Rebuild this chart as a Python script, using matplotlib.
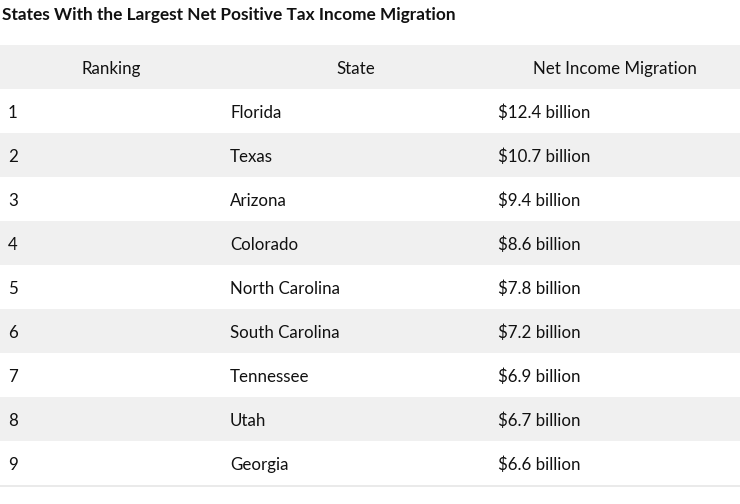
import matplotlib.pyplot as plt
from matplotlib.patches import Rectangle

title = "States With the Largest Net Positive Tax Income Migration"
headers = ["Ranking", "State", "Net Income Migration"]
rankings = ["1", "2", "3", "4", "5", "6", "7", "8", "9"]
states = ["Florida", "Texas", "Arizona", "Colorado", "North Carolina",
          "South Carolina", "Tennessee", "Utah", "Georgia"]
migration = ["$12.4 billion", "$10.7 billion", "$9.4 billion", "$8.6 billion",
             "$7.8 billion", "$7.2 billion", "$6.9 billion", "$6.7 billion",
             "$6.6 billion"]

plt.rcParams['font.family'] = ['Lato', 'DejaVu Sans']

fig = plt.figure(figsize=(7.4, 5.04), dpi=100)
ax = fig.add_axes([0, 0, 1, 1])
ax.set_xlim(0, 740)
ax.set_ylim(504, 0)
ax.axis('off')

# column edges in pixels
col_left = [0, 222, 490]
col_right = [222, 490, 740]
top = 45
row_h = 44
gray = '#f0f0f0'
txt = '#111111'

ax.text(2, 15, title, fontsize=12.4, fontweight='bold', va='center', ha='left', color='#111111')

# header
ax.add_patch(Rectangle((0, top), 740, row_h, facecolor=gray, edgecolor='none'))
for i, h in enumerate(headers):
    ax.text((col_left[i] + col_right[i]) / 2, top + row_h / 2 + 2, h, fontsize=12.2,
            ha='center', va='center', color=txt)

for r, row in enumerate(zip(rankings, states, migration)):
    y0 = top + row_h * (r + 1)
    if r % 2 == 1:
        ax.add_patch(Rectangle((0, y0), 740, row_h, facecolor=gray, edgecolor='none'))
    for i, val in enumerate(row):
        ax.text(col_left[i] + 8, y0 + row_h / 2 + 2, val, fontsize=12.2,
                ha='left', va='center', color=txt)

ax.plot([0, 740], [top + row_h * 10 + 1, top + row_h * 10 + 1], color='#e6e6e6', lw=1.2)

fig.savefig('out.png', dpi=100)
